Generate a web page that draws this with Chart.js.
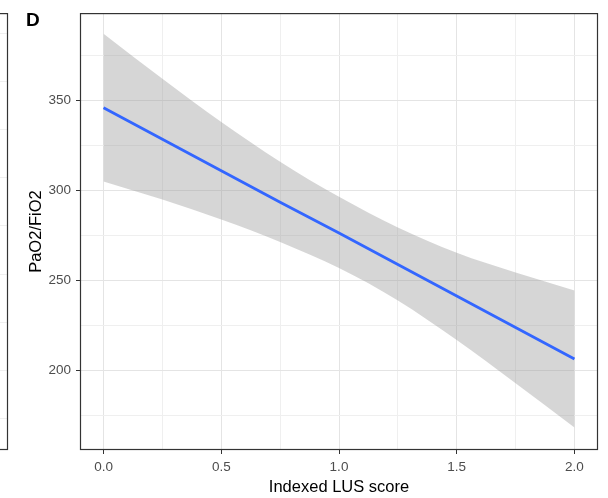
<!DOCTYPE html>
<html>
<head>
<meta charset="utf-8">
<script src="https://cdn.jsdelivr.net/npm/chart.js@4"></script>
<style>
  html, body { margin: 0; padding: 0; background: #fff; }
  canvas { display: block; }
</style>
</head>
<body>
<canvas id="chart" width="608" height="498"></canvas>
<script>
// Linear fit of PaO2/FiO2 on indexed LUS score, with 95% band
const lusScore  = [0, 0.25, 0.5, 0.75, 1.0, 1.25, 1.5, 1.75, 2.0];
const fitValues = [346, 328.5, 311, 293.5, 276.5, 259, 241.5, 224, 206.5];
const upperBand = [387, 362, 338, 316, 296.5, 279.5, 265.5, 254.5, 244.5];
const lowerBand = [305, 295, 284, 271.5, 257, 239, 217, 193, 168.5];

const xMajorTicks = [0, 0.5, 1, 1.5, 2];
const yMajorTicks = [200, 250, 300, 350];

const FONT = "'Liberation Sans', Arial, sans-serif";
const colors = {
  fit: '#3366FF',
  band: 'rgba(153, 153, 153, 0.4)',
  gridMajor: '#e4e4e4',
  gridMinor: '#efefef',
  border: '#333333',
  tickText: '#4d4d4d'
};

const toPoints = (ys) => lusScore.map((x, i) => ({ x: x, y: ys[i] }));
const isMajor = (list, v) => list.some(t => Math.abs(t - v) < 1e-6);

// panel border on all four sides + the panel label and the edge of panel C
const panelDecor = {
  id: 'panelDecor',
  afterDraw(chart) {
    const { ctx, chartArea: a } = chart;
    ctx.save();
    ctx.strokeStyle = colors.border;
    ctx.lineWidth = 1.2;
    ctx.strokeRect(a.left + 0.5, a.top + 0.5, a.right - a.left - 1, a.bottom - a.top - 1);

    // right edge of the neighbouring panel C
    ctx.strokeStyle = colors.gridMinor;
    ctx.lineWidth = 1;
    for (let i = 0; i < 9; i++) {
      const y = 33 + i * 48.1;
      ctx.beginPath();
      ctx.moveTo(0, Math.round(y) + 0.5);
      ctx.lineTo(7, Math.round(y) + 0.5);
      ctx.stroke();
    }
    ctx.strokeStyle = colors.border;
    ctx.lineWidth = 1.2;
    ctx.strokeRect(-10, a.top + 0.5, 17.5, a.bottom - a.top - 1);

    ctx.fillStyle = '#000';
    ctx.font = 'bold 19px ' + FONT;
    ctx.textBaseline = 'alphabetic';
    ctx.fillText('D', 26, 26);
    ctx.restore();
  }
};

new Chart(document.getElementById('chart'), {
  type: 'line',
  data: {
    datasets: [
      {
        label: 'fit',
        data: toPoints(fitValues),
        borderColor: colors.fit,
        borderWidth: 2.8,
        pointRadius: 0,
        fill: false,
        tension: 0
      },
      {
        label: 'upper',
        data: toPoints(upperBand),
        borderWidth: 0,
        borderColor: 'transparent',
        backgroundColor: colors.band,
        pointRadius: 0,
        fill: '+1',
        cubicInterpolationMode: 'monotone'
      },
      {
        label: 'lower',
        data: toPoints(lowerBand),
        borderWidth: 0,
        borderColor: 'transparent',
        pointRadius: 0,
        fill: false,
        cubicInterpolationMode: 'monotone'
      }
    ]
  },
  options: {
    responsive: false,
    animation: false,
    devicePixelRatio: 1,
    layout: { padding: { top: 8, right: 10, left: 0, bottom: 0 } },
    plugins: {
      legend: { display: false },
      tooltip: { enabled: false }
    },
    scales: {
      x: {
        type: 'linear',
        min: -0.1,
        max: 2.1,
        afterFit: (scale) => { scale.height = 48; },
        border: { display: false },
        grid: {
          color: (c) => isMajor(xMajorTicks, c.tick.value) ? colors.gridMajor : colors.gridMinor,
          lineWidth: 1,
          tickLength: 4,
          tickColor: (c) => isMajor(xMajorTicks, c.tick.value) ? colors.border : 'transparent'
        },
        ticks: {
          stepSize: 0.25,
          includeBounds: false,
          autoSkip: false,
          maxRotation: 0,
          padding: 5,
          color: colors.tickText,
          font: { family: FONT, size: 13.5 },
          callback: (v) => isMajor(xMajorTicks, v) ? Number(v).toFixed(1) : ''
        },
        title: {
          display: true,
          text: 'Indexed LUS score',
          color: '#000',
          font: { family: FONT, size: 16.5 },
          padding: { top: 0, bottom: 1 }
        }
      },
      y: {
        type: 'linear',
        min: 156,
        max: 398.5,
        afterFit: (scale) => { scale.width = 80; },
        border: { display: false },
        grid: {
          color: (c) => isMajor(yMajorTicks, c.tick.value) ? colors.gridMajor : colors.gridMinor,
          lineWidth: 1,
          tickLength: 4,
          tickColor: (c) => isMajor(yMajorTicks, c.tick.value) ? colors.border : 'transparent'
        },
        ticks: {
          stepSize: 25,
          includeBounds: false,
          autoSkip: false,
          padding: 5,
          color: colors.tickText,
          font: { family: FONT, size: 13.5 },
          callback: (v) => isMajor(yMajorTicks, v) ? String(v) : ''
        },
        title: {
          display: true,
          text: 'PaO2/FiO2',
          color: '#000',
          font: { family: FONT, size: 16.5 },
          padding: { top: 27, bottom: 0 }
        }
      }
    }
  },
  plugins: [panelDecor]
});
</script>
</body>
</html>
